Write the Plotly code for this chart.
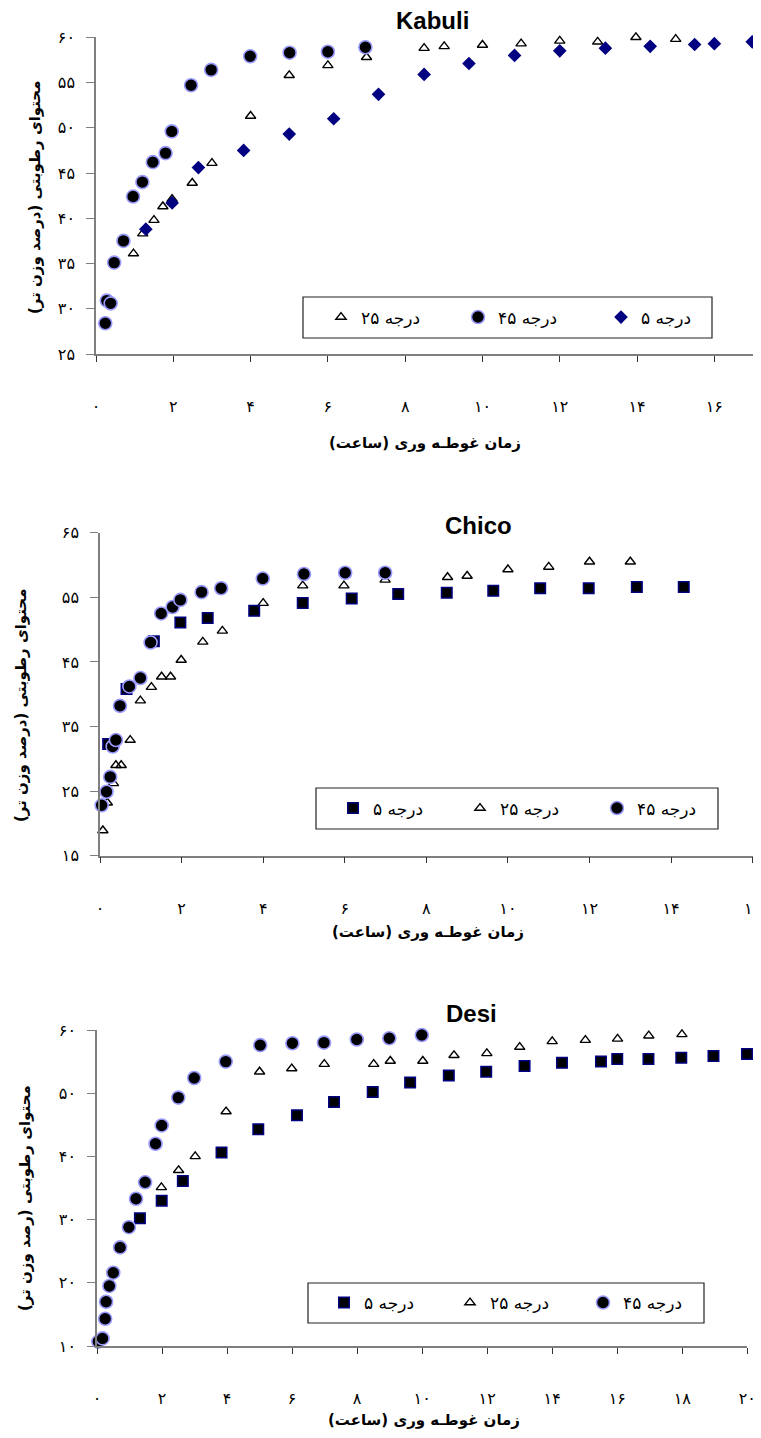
import plotly.graph_objects as go

W, H = 761, 1438
OFF = 8  # page body margin; figure drawn inside it

# ---------------- data ----------------
# Kabuli
kab_x45 = [0.24, 0.28, 0.38, 0.47, 0.71, 0.96, 1.2, 1.47, 1.8, 1.96, 2.46, 2.98, 3.99, 5.01, 6.0, 6.97]
kab_y45 = [28.4, 30.9, 30.6, 35.1, 37.5, 42.4, 44.0, 46.2, 47.2, 49.6, 54.7, 56.4, 57.9, 58.3, 58.4, 58.9]
kab_x25 = [0.97, 1.21, 1.5, 1.73, 1.97, 2.49, 3.0, 4.0, 5.0, 6.0, 7.0, 8.49, 9.01, 10.0, 11.0, 12.0, 12.98, 13.97, 15.0]
kab_y25 = [36.1, 38.3, 39.8, 41.3, 42.1, 43.9, 46.1, 51.3, 55.8, 56.9, 57.8, 58.8, 59.0, 59.15, 59.3, 59.6, 59.5, 60.0, 59.8]
kab_x5 = [1.29, 1.97, 2.65, 3.82, 5.0, 6.15, 7.31, 8.49, 9.65, 10.83, 12.0, 13.18, 14.34, 15.49, 16.0, 16.98]
kab_y5 = [38.8, 41.7, 45.6, 47.5, 49.3, 51.0, 53.7, 55.9, 57.1, 58.0, 58.5, 58.8, 59.0, 59.2, 59.3, 59.5]

# Chico
chi_x45 = [0.04, 0.16, 0.25, 0.31, 0.39, 0.49, 0.72, 0.99, 1.24, 1.5, 1.78, 1.97, 2.49, 2.97, 3.99, 5.0, 6.01, 6.99]
chi_y45 = [22.8, 24.9, 27.2, 31.9, 32.9, 38.2, 41.2, 42.5, 48.0, 52.5, 53.5, 54.6, 55.8, 56.4, 57.9, 58.6, 58.8, 58.8]
chi_x25 = [0.07, 0.18, 0.33, 0.39, 0.52, 0.74, 0.99, 1.26, 1.51, 1.73, 1.99, 2.52, 3.0, 4.0, 4.97, 5.98, 6.99,
           8.52, 9.0, 10.0, 11.0, 12.0, 13.0]
chi_y25 = [18.9, 23.2, 26.2, 29.0, 29.0, 32.9, 39.0, 41.1, 42.7, 42.7, 45.3, 48.1, 49.8, 54.1, 56.8, 56.8, 57.7,
           58.1, 58.3, 59.3, 59.7, 60.5, 60.5]
chi_x5 = [0.2, 0.65, 1.32, 1.97, 2.64, 3.78, 4.97, 6.17, 7.31, 8.5, 9.64, 10.79, 11.98, 13.16, 14.31]
chi_y5 = [32.3, 40.8, 48.2, 51.1, 51.8, 52.9, 54.1, 54.8, 55.5, 55.7, 56.0, 56.4, 56.4, 56.6, 56.6]

# Desi
des_x45 = [0.04, 0.17, 0.25, 0.28, 0.38, 0.5, 0.71, 0.98, 1.2, 1.48, 1.8, 1.99, 2.5, 2.99, 3.96, 5.02, 6.01,
           6.98, 7.99, 8.99, 9.99]
des_y45 = [10.7, 11.2, 14.3, 17.0, 19.5, 21.6, 25.6, 28.8, 33.3, 35.9, 42.0, 44.9, 49.3, 52.4, 55.0, 57.6, 57.9,
           58.0, 58.5, 58.7, 59.2]
des_x25 = [1.98, 2.51, 3.02, 3.97, 5.0, 5.99, 6.99, 8.51, 9.02, 10.02, 10.98, 11.99, 13.0, 14.0, 15.02, 16.01,
           16.97, 17.99]
des_y25 = [35.1, 37.8, 40.0, 47.1, 53.4, 53.9, 54.6, 54.6, 55.1, 55.1, 56.0, 56.3, 57.3, 58.2, 58.4, 58.6,
           59.1, 59.3]
des_x5 = [1.32, 1.99, 2.64, 3.83, 4.96, 6.15, 7.29, 8.48, 9.63, 10.82, 11.97, 13.15, 14.3, 15.5, 16.0, 16.96,
          17.97, 18.96, 19.99]
des_y5 = [30.2, 33.0, 36.1, 40.6, 44.3, 46.5, 48.6, 50.2, 51.7, 52.8, 53.4, 54.3, 54.8, 55.0, 55.4, 55.4,
          55.6, 55.9, 56.2]

# labels
titles = ["Kabuli", "Chico", "Desi"]
name5 = "درجه ۵"
name25 = "درجه ۲۵"
name45 = "درجه ۴۵"
xtitle = "\u200fزمان غوطـه وری (ساعت)\u200f"
ytitle = "\u200fمحتوای رطوبتی (درصد وزن تر)\u200f"
ytitle_desi = "\u200fمحتوای رطوبتی (رصد وزن تر)\u200f"

kab_xticks = [0, 2, 4, 6, 8, 10, 12, 14, 16]
kab_yticks = [25, 30, 35, 40, 45, 50, 55, 60]
chi_xticks = [0, 2, 4, 6, 8, 10, 12, 14, 16]
chi_yticks = [15, 25, 35, 45, 55, 65]
des_xticks = [0, 2, 4, 6, 8, 10, 12, 14, 16, 18, 20]
des_yticks = [10, 20, 30, 40, 50, 60]

FA_DIGITS = str.maketrans("0123456789", "۰۱۲۳۴۵۶۷۸۹")


def fa(v):
    return str(v).translate(FA_DIGITS)


# ---------------- styling helpers ----------------
AR_FONT = "DejaVu Sans"
AXIS_GRAY = "#7f7f7f"

m45 = dict(symbol="circle", size=13, color="black", line=dict(color="#9a9aff", width=1.6))
m25 = dict(symbol="triangle-up-open", size=9, color="black", line=dict(color="black", width=1.4))
m5d = dict(symbol="diamond", size=10.5, color="#000080", line=dict(color="#000080", width=0))
m5s = dict(symbol="square", size=10.5, color="black", line=dict(color="#000080", width=1.5))

FW, FH = W - OFF, H - OFF


def px_x(p):
    return (p - OFF) / FW


def px_y(p):
    return 1 - (p - OFF) / FH


fig = go.Figure()

panels = [
    dict(xa="x", ya="y", lg="legend",
         series=[(kab_x25, kab_y25, name25, m25, 1, 92), (kab_x5, kab_y5, name5, m5d, 3, 80),
                 (kab_x45, kab_y45, name45, m45, 2, 98)],
         box=(96, 753, 37.3, 354), xr=[0, 17], yr=[25, 60], xt=kab_xticks, yt=kab_yticks,
         title_xy=(432, 21), xt_xy=(425, 443), yt_xy=(35, 198), ytxt=ytitle,
         leg=(303, 712, 297, 338), leg_x=321),
    dict(xa="x2", ya="y2", lg="legend2",
         series=[(chi_x25, chi_y25, name25, m25, 2, 92), (chi_x5, chi_y5, name5, m5s, 1, 82),
                 (chi_x45, chi_y45, name45, m45, 3, 88)],
         box=(100, 752.7, 532.7, 855.7), xr=[0, 16], yr=[15, 65], xt=chi_xticks, yt=chi_yticks,
         title_xy=(478, 525), xt_xy=(428, 932), yt_xy=(21, 706), ytxt=ytitle,
         leg=(316, 718, 788, 829), leg_x=333),
    dict(xa="x3", ya="y3", lg="legend3",
         series=[(des_x25, des_y25, name25, m25, 2, 88), (des_x5, des_y5, name5, m5s, 1, 81),
                 (des_x45, des_y45, name45, m45, 3, 87)],
         box=(97, 747.3, 1030, 1346), xr=[0, 20], yr=[10, 60], xt=des_xticks, yt=des_yticks,
         title_xy=(471, 1013), xt_xy=(424, 1420), yt_xy=(25, 1198), ytxt=ytitle_desi,
         leg=(308, 704, 1283, 1323), leg_x=324),
]

annotations = []
shapes = []
layout_axes = {}
legends = {}

for i, p in enumerate(panels):
    for (xs, ys, nm, mk, rank, lw) in p["series"]:
        fig.add_trace(go.Scatter(x=xs, y=ys, mode="markers", name=nm, marker=mk,
                                 xaxis=p["xa"], yaxis=p["ya"], legend=p["lg"], legendrank=rank,
                                 legendwidth=lw, cliponaxis=False, showlegend=True))
    x0, x1, y0, y1 = p["box"]
    xkey = "xaxis" if p["xa"] == "x" else "xaxis" + p["xa"][1:]
    ykey = "yaxis" if p["ya"] == "y" else "yaxis" + p["ya"][1:]
    layout_axes[xkey] = dict(
        domain=[px_x(x0), px_x(x1)], anchor=p["ya"], range=p["xr"], automargin=False,
        tickvals=p["xt"], ticktext=[fa(v) for v in p["xt"]], ticklabeloverflow="allow",
        showline=True, linecolor=AXIS_GRAY, linewidth=1.5, mirror=False,
        ticks="outside", ticklen=6, tickwidth=1.2, tickcolor="#333333",
        showgrid=False, zeroline=False, ticklabelstandoff=31,
        tickfont=dict(family=AR_FONT, size=16, color="black"))
    layout_axes[ykey] = dict(
        domain=[px_y(y1), px_y(y0)], anchor=p["xa"], range=p["yr"], automargin=False,
        tickvals=p["yt"], ticktext=[fa(v) for v in p["yt"]],
        showline=True, linecolor=AXIS_GRAY, linewidth=1.5,
        ticks="outside", ticklen=8, tickwidth=1.2, tickcolor=AXIS_GRAY,
        showgrid=False, zeroline=False, ticklabelstandoff=8,
        tickfont=dict(family=AR_FONT, size=16, color="black"))

    tx, ty = p["title_xy"]
    annotations.append(dict(text="<b>%s</b>" % titles[i], x=px_x(tx), y=px_y(ty), xref="paper", yref="paper",
                            showarrow=False, xanchor="center", yanchor="middle",
                            font=dict(family="Liberation Sans", size=24, color="black")))
    ax_, ay_ = p["xt_xy"]
    annotations.append(dict(text="<b>%s</b>" % xtitle, x=px_x(ax_), y=px_y(ay_), xref="paper", yref="paper",
                            showarrow=False, xanchor="center", yanchor="middle",
                            font=dict(family=AR_FONT, size=15, color="black")))
    yx_, yy_ = p["yt_xy"]
    annotations.append(dict(text="<b>%s</b>" % p["ytxt"], x=px_x(yx_), y=px_y(yy_), xref="paper", yref="paper",
                            showarrow=False, xanchor="center", yanchor="middle", textangle=-90,
                            font=dict(family=AR_FONT, size=15, color="black")))

    lx0, lx1, ly0, ly1 = p["leg"]
    shapes.append(dict(type="rect", xref="paper", yref="paper", x0=px_x(lx0), x1=px_x(lx1),
                       y0=px_y(ly1), y1=px_y(ly0), line=dict(color="#222222", width=1.2),
                       fillcolor="rgba(0,0,0,0)"))
    legends[p["lg"]] = dict(orientation="h", x=px_x(p["leg_x"]), y=px_y((ly0 + ly1) / 2),
                            xanchor="left", yanchor="middle", bgcolor="rgba(0,0,0,0)", borderwidth=0,
                            traceorder="normal",
                            font=dict(family=AR_FONT, size=17, color="black"))

fig.update_layout(
    width=FW, height=FH, margin=dict(l=0, r=0, t=0, b=0, autoexpand=False),
    paper_bgcolor="white", plot_bgcolor="white",
    annotations=annotations, shapes=shapes, **layout_axes, **legends,
)

fig.write_html("out.html")
